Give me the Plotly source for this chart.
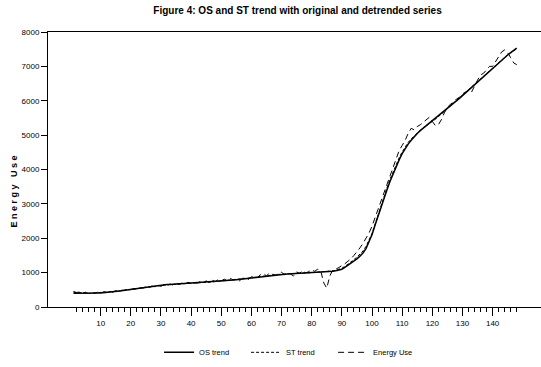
import plotly.graph_objects as go

periods = list(range(1, 149))

os_trend = [
    400, 398, 396, 395, 395, 396, 398, 401, 405, 410,
    416, 423, 431, 440, 450, 461, 473, 486, 499, 513,
    527, 541, 555, 569, 582, 595, 607, 618, 628, 637,
    645, 652, 658, 664, 669, 673, 677, 681, 685, 689,
    693, 697, 702, 707, 712, 718, 724, 731, 738, 746,
    754, 763, 772, 782, 792, 803, 814, 826, 838, 850,
    862, 874, 886, 897, 908, 918, 927, 935, 942, 948,
    953, 958, 962, 966, 970, 974, 978, 982, 986, 990,
    995, 1000, 1006, 1013, 1021, 1030, 1040, 1052, 1070, 1100,
    1150, 1210, 1275, 1340, 1400, 1480, 1570, 1700, 1880, 2100,
    2380, 2650, 2920, 3180, 3420, 3660, 3880, 4080, 4280, 4460,
    4610, 4740, 4850, 4960, 5050, 5130, 5210, 5280, 5350, 5420,
    5490, 5560, 5630, 5700, 5770, 5845, 5920, 5995, 6070, 6150,
    6230, 6310, 6390, 6470, 6550, 6630, 6710, 6790, 6870, 6950,
    7025, 7100, 7175, 7250, 7330, 7400, 7470, 7530,
]

st_trend = [
    430, 420, 410, 405, 400, 402, 405, 410, 412, 418,
    425, 430, 440, 450, 455, 465, 478, 490, 505, 515,
    530, 545, 555, 570, 580, 590, 600, 612, 620, 630,
    640, 648, 655, 662, 668, 672, 678, 685, 690, 695,
    700, 702, 708, 712, 718, 722, 730, 738, 745, 752,
    760, 768, 775, 785, 795, 805, 815, 830, 840, 855,
    868, 880, 895, 905, 915, 925, 935, 940, 948, 955,
    960, 965, 968, 972, 975, 980, 985, 990, 995, 1000,
    1005, 1010, 1012, 1015, 1022, 1035, 1050, 1070, 1095, 1130,
    1180, 1240, 1310, 1380, 1450, 1530, 1630, 1760, 1930, 2140,
    2400, 2680, 2960, 3230, 3480, 3720, 3940, 4150, 4340, 4510,
    4660, 4790, 4890, 4980, 5060, 5140, 5210, 5280, 5340, 5400,
    5460, 5530, 5610, 5690, 5770, 5850, 5930, 6010, 6080, 6160,
    6240, 6320, 6400, 6480, 6560, 6640, 6720, 6800, 6880, 6960,
    7040, 7120, 7200, 7280, 7340, 7400, 7460, 7510,
]

energy_use = [
    450, 420, 440, 400, 430, 390, 420, 400, 430, 410,
    440, 420, 450, 430, 470, 460, 490, 480, 520, 500,
    540, 520, 560, 550, 590, 570, 610, 590, 640, 600,
    650, 620, 670, 640, 690, 660, 700, 670, 720, 680,
    720, 690, 740, 700, 760, 720, 780, 740, 800, 760,
    810, 770, 830, 790, 810, 760, 830, 850, 800, 880,
    900, 860, 940, 980, 900, 1000, 950, 920, 980, 1010,
    940, 1000, 960, 900, 1020, 980, 1060, 990, 1030, 1080,
    1040, 1100, 1050, 700, 550, 900, 1080, 1100, 1150, 1200,
    1260, 1330, 1400, 1500, 1600, 1720, 1850, 1990, 2150, 2350,
    2600, 2850, 3100, 3350, 3600, 3830, 4050, 4300, 4550, 4700,
    4850, 5050, 5200, 5150, 5250, 5300, 5380, 5450, 5520, 5400,
    5280, 5300, 5450, 5650, 5800, 5900, 5950, 6050, 6100, 6200,
    6250, 6300, 6250, 6450, 6600, 6750, 6800, 6900, 7000, 7000,
    7150, 7300, 7420, 7480, 7400, 7250, 7100, 7050,
]

major_ticks = list(range(10, 150, 10))
minor_ticks = list(range(2, 150, 2))

FONT = "Liberation Sans, Arial, sans-serif"

fig = go.Figure()
fig.add_trace(go.Scatter(x=periods, y=os_trend, mode="lines", name="OS trend",
                         line=dict(color="black", width=1.5, dash="solid")))
fig.add_trace(go.Scatter(x=periods, y=st_trend, mode="lines", name="ST trend",
                         line=dict(color="black", width=1, dash="3px,2px")))
fig.add_trace(go.Scatter(x=periods, y=energy_use, mode="lines", name="Energy Use",
                         line=dict(color="black", width=1, dash="6px,4px")))

fig.update_layout(
    width=541, height=367,
    margin=dict(l=48, r=0, t=32, b=60, autoexpand=False),
    paper_bgcolor="white", plot_bgcolor="white",
    font=dict(family=FONT, size=8, color="black"),
    title=dict(text="<b>Figure 4: OS and ST trend with original and detrended series</b>",
               x=0.55, xanchor="center", y=0.982, yanchor="top",
               font=dict(family=FONT, size=10, color="black")),
    showlegend=True,
    legend=dict(orientation="h", x=0.49, xanchor="center",
                yref="container", y=0.04, yanchor="middle",
                font=dict(family=FONT, size=7.5), itemwidth=30, tracegroupgap=0,
                entrywidth=42, entrywidthmode="pixels",
                bgcolor="rgba(0,0,0,0)"),
    xaxis=dict(range=[-7.46, 156.05], showgrid=False, zeroline=False, automargin=False,
               showline=True, linecolor="black", linewidth=1, mirror=True,
               tickmode="array", tickvals=major_ticks, ticks="outside", ticklen=8,
               tickcolor="black", tickwidth=1,
               minor=dict(tickmode="array", tickvals=minor_ticks, ticks="outside",
                          ticklen=4, tickcolor="black", tickwidth=1, showgrid=False),
               tickfont=dict(family=FONT, size=8)),
    yaxis=dict(range=[0, 8000], showgrid=False, zeroline=False, automargin=False,
               showline=True, linecolor="black", linewidth=1,
               tickmode="linear", tick0=0, dtick=1000, ticks="outside", ticklen=6,
               tickcolor="black", tickfont=dict(family=FONT, size=8)),
    annotations=[dict(text="<b>E n e r g y   U s e</b>", textangle=-90,
                      xref="paper", yref="paper", x=-0.069, y=0.42,
                      xanchor="center", yanchor="middle", showarrow=False,
                      font=dict(family=FONT, size=9))],
)

fig.write_html("out.html", config={"displayModeBar": False},
               post_script="document.body.style.margin='0';document.body.style.padding='0';")
